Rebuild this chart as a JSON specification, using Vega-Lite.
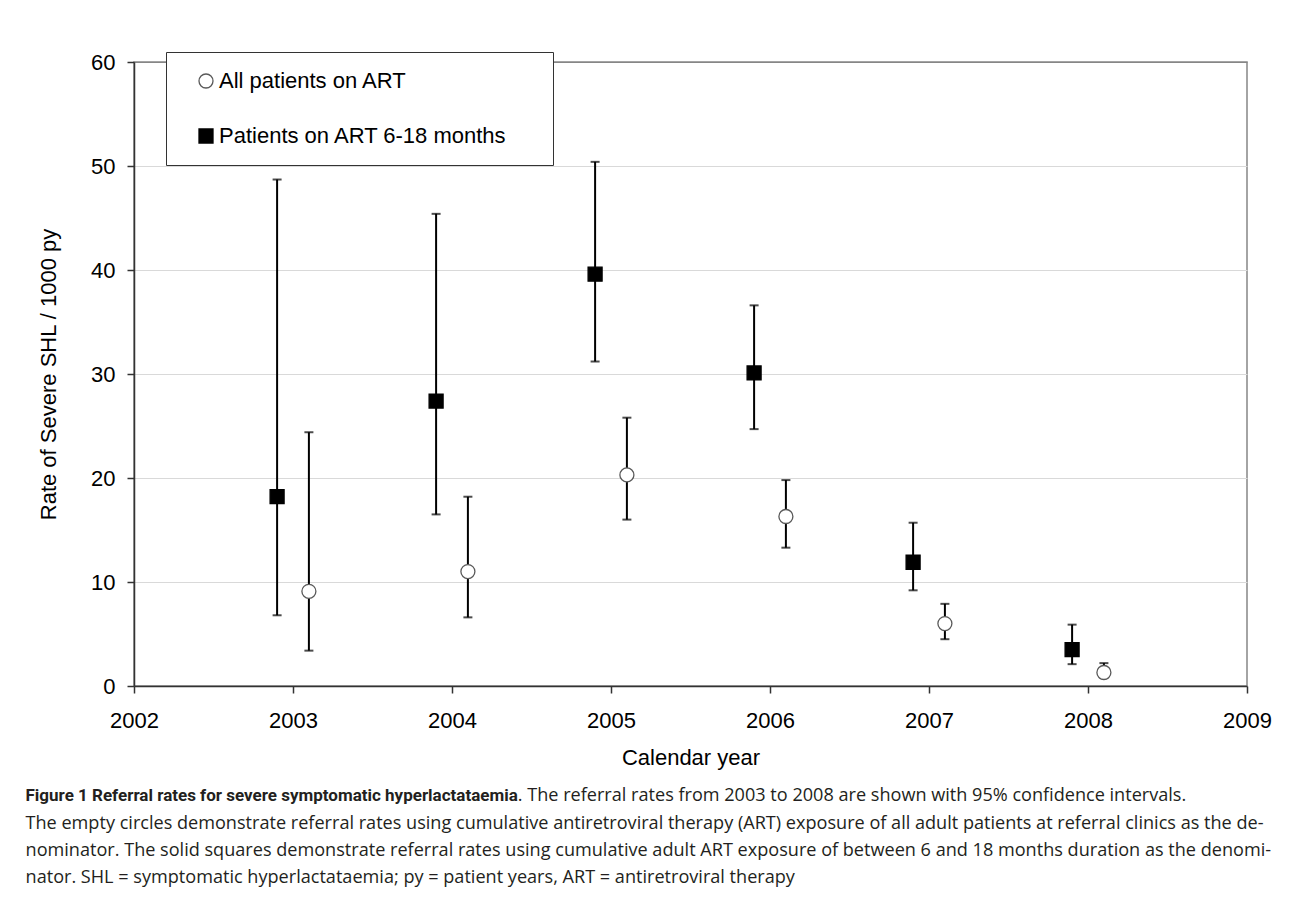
{
  "$schema": "https://vega.github.io/schema/vega-lite/v6.json",
  "background": "white",
  "padding": {"left": 24, "top": 50, "right": 5, "bottom": 5},
  "title": {
    "text": ". The referral rates from 2003 to 2008 are shown with 95% confidence intervals.",
    "orient": "bottom",
    "anchor": "start",
    "frame": "bounds",
    "offset": 0,
    "dx": 493,
    "dy": -101,
    "font": "Open Sans",
    "fontSize": 18.1,
    "fontWeight": "normal",
    "color": "#231f20"
  },
  "vconcat": [
    {
      "width": 1113,
      "height": 624,
      "title": {
        "text": "Figure 1 Referral rates for severe symptomatic hyperlactataemia",
        "subtitle": [
          "The empty circles demonstrate referral rates using cumulative antiretroviral therapy (ART) exposure of all adult patients at referral clinics as the de-",
          "nominator. The solid squares demonstrate referral rates using cumulative adult ART exposure of between 6 and 18 months duration as the denomi-",
          "nator. SHL = symptomatic hyperlactataemia; py = patient years, ART = antiretroviral therapy"
        ],
        "orient": "bottom",
        "anchor": "start",
        "frame": "bounds",
        "offset": 20,
        "dx": -12,
        "font": "Roboto",
        "fontSize": 17,
        "fontWeight": "bold",
        "color": "#231f20",
        "subtitleFont": "Open Sans",
        "subtitleFontSize": 18.1,
        "subtitleColor": "#231f20",
        "subtitlePadding": 10,
        "subtitleLineHeight": 27
      },
      "data": {
        "values": [
          {"series": "All patients on ART", "year": 2003.1, "rate": 9.1, "lo": 3.4, "hi": 24.4},
          {"series": "All patients on ART", "year": 2004.1, "rate": 11.0, "lo": 6.6, "hi": 18.2},
          {"series": "All patients on ART", "year": 2005.1, "rate": 20.3, "lo": 16.0, "hi": 25.8},
          {"series": "All patients on ART", "year": 2006.1, "rate": 16.3, "lo": 13.3, "hi": 19.8},
          {"series": "All patients on ART", "year": 2007.1, "rate": 6.0, "lo": 4.5, "hi": 7.9},
          {"series": "All patients on ART", "year": 2008.1, "rate": 1.3, "lo": 0.8, "hi": 2.2},
          {"series": "Patients on ART 6-18 months", "year": 2002.9, "rate": 18.2, "lo": 6.8, "hi": 48.7},
          {"series": "Patients on ART 6-18 months", "year": 2003.9, "rate": 27.4, "lo": 16.5, "hi": 45.4},
          {"series": "Patients on ART 6-18 months", "year": 2004.9, "rate": 39.6, "lo": 31.2, "hi": 50.4},
          {"series": "Patients on ART 6-18 months", "year": 2005.9, "rate": 30.1, "lo": 24.7, "hi": 36.6},
          {"series": "Patients on ART 6-18 months", "year": 2006.9, "rate": 11.9, "lo": 9.2, "hi": 15.7},
          {"series": "Patients on ART 6-18 months", "year": 2007.9, "rate": 3.5, "lo": 2.1, "hi": 5.9}
        ]
      },
      "encoding": {
        "x": {
          "field": "year",
          "type": "quantitative",
          "scale": {"domain": [2002, 2009], "nice": false, "zero": false},
          "axis": {
            "title": "Calendar year",
            "values": [2002, 2003, 2004, 2005, 2006, 2007, 2008, 2009],
            "format": "d",
            "grid": false,
            "labelPadding": 17,
            "titlePadding": 16,
            "labelFlush": false
          }
        }
      },
      "layer": [
        {
          "mark": {"type": "rule", "color": "#000", "strokeWidth": 2},
          "encoding": {
            "y": {
              "field": "lo",
              "type": "quantitative",
              "scale": {"domain": [0, 60], "nice": false},
              "axis": {
                "title": "Rate of Severe SHL / 1000 py",
                "values": [0, 10, 20, 30, 40, 50, 60],
                "grid": true,
                "gridColor": {"condition": {"test": "datum.value == 60", "value": "#868686"}, "value": "#d9d9d9"},
                "labelPadding": 12,
                "titlePadding": 30
              }
            },
            "y2": {"field": "hi"}
          }
        },
        {
          "mark": {"type": "tick", "orient": "horizontal", "color": "#000", "thickness": 2, "size": 9},
          "encoding": {"y": {"field": "lo", "type": "quantitative"}}
        },
        {
          "mark": {"type": "tick", "orient": "horizontal", "color": "#000", "thickness": 2, "size": 9},
          "encoding": {"y": {"field": "hi", "type": "quantitative"}}
        },
        {
          "mark": {"type": "point", "filled": true, "size": 196, "opacity": 1, "strokeWidth": 1.3},
          "encoding": {
            "y": {"field": "rate", "type": "quantitative"},
            "shape": {
              "field": "series",
              "type": "nominal",
              "scale": {"domain": ["All patients on ART", "Patients on ART 6-18 months"], "range": ["circle", "square"]},
              "legend": {"title": "\u00a0\u00a0"}
            },
            "fill": {
              "field": "series",
              "type": "nominal",
              "scale": {"domain": ["All patients on ART", "Patients on ART 6-18 months"], "range": ["#ffffff", "#000000"]},
              "legend": {"title": "\u00a0\u00a0"}
            },
            "stroke": {
              "field": "series",
              "type": "nominal",
              "scale": {"domain": ["All patients on ART", "Patients on ART 6-18 months"], "range": ["#595959", "#000000"]},
              "legend": {"title": "\u00a0\u00a0"}
            }
          }
        }
      ]
    }
  ],
  "config": {
    "font": "Liberation Sans",
    "view": {"stroke": "#868686", "strokeWidth": 1.5},
    "axis": {
      "labelFont": "Liberation Sans",
      "labelFontSize": 22,
      "labelColor": "#000",
      "titleFont": "Liberation Sans",
      "titleFontSize": 22,
      "titleFontWeight": "normal",
      "titleColor": "#000",
      "tickColor": "#333",
      "domainColor": "#333",
      "tickSize": 7,
      "tickWidth": 1.5,
      "domainWidth": 1.5
    },
    "legend": {
      "orient": "none",
      "legendX": 32,
      "legendY": -10,
      "fillColor": "white",
      "strokeColor": "#333",
      "padding": 18,
      "symbolOffset": 11,
      "symbolSize": 196,
      "symbolStrokeWidth": 1.3,
      "labelFont": "Liberation Sans",
      "labelFontSize": 22,
      "labelColor": "#000",
      "labelOffset": 2,
      "labelLimit": 500,
      "rowPadding": 33,
      "titleOrient": "right",
      "titleFontSize": 22,
      "titlePadding": 28,
      "titleColor": "#ffffff"
    }
  }
}
